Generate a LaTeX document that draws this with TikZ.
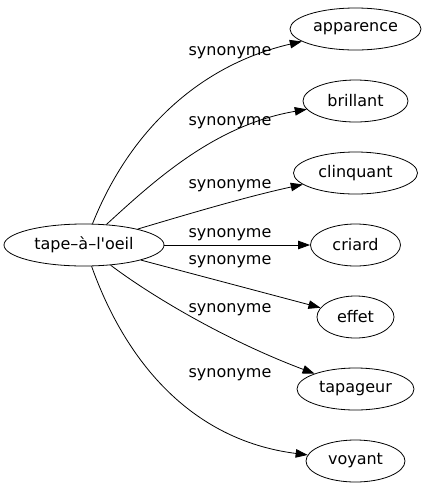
\documentclass[tikz,border=0pt]{standalone}
\usepackage{fontspec}
\setmainfont{DejaVu Sans}
\usetikzlibrary{shapes.geometric,arrows.meta}

\begin{document}
\begin{tikzpicture}[x=1pt,y=-1pt]
\tikzstyle{every node}=[font=\fontsize{16}{19}\selectfont];
\tikzstyle{word}=[draw,shape=ellipse,line width=0.8pt,minimum height=42pt,inner sep=0pt];
\tikzstyle{syn}=[-{Triangle[length=12pt,width=8.5pt]},line width=0.8pt];
\useasboundingbox (0,0) rectangle (428,491);
\path (84,245) node[word,minimum width=160pt] (t) {tape–à–l\textquotesingle oeil};
\foreach \n/\w/\y in {apparence/131/29,brillant/105/101,clinquant/124/173,criard/90/245,effet/77/317,tapageur/117/389,voyant/99/461}
{
\path (355.5,\y) node[word,minimum width=\w pt] (\n) {\n};
}
\draw[syn] (t) .. controls (130,130) and (200,65) .. (apparence);
\draw[syn] (t) .. controls (155,180) and (215,125) .. (brillant);
\draw[syn] (t) .. controls (185,215) and (245,197) .. (clinquant);
\draw[syn] (t) -- (criard);
\draw[syn] (t) -- (effet);
\draw[syn] (t) .. controls (150,295) and (225,340) .. (tapageur);
\draw[syn] (t) .. controls (125,360) and (190,440) .. (voyant);
\foreach \i/\y in {1/53,2/123,3/186,4/235,5/262,6/310,7/375}
{
\path (230,\y) node (s\i) {synonyme};
}
\end{tikzpicture}
\end{document}
